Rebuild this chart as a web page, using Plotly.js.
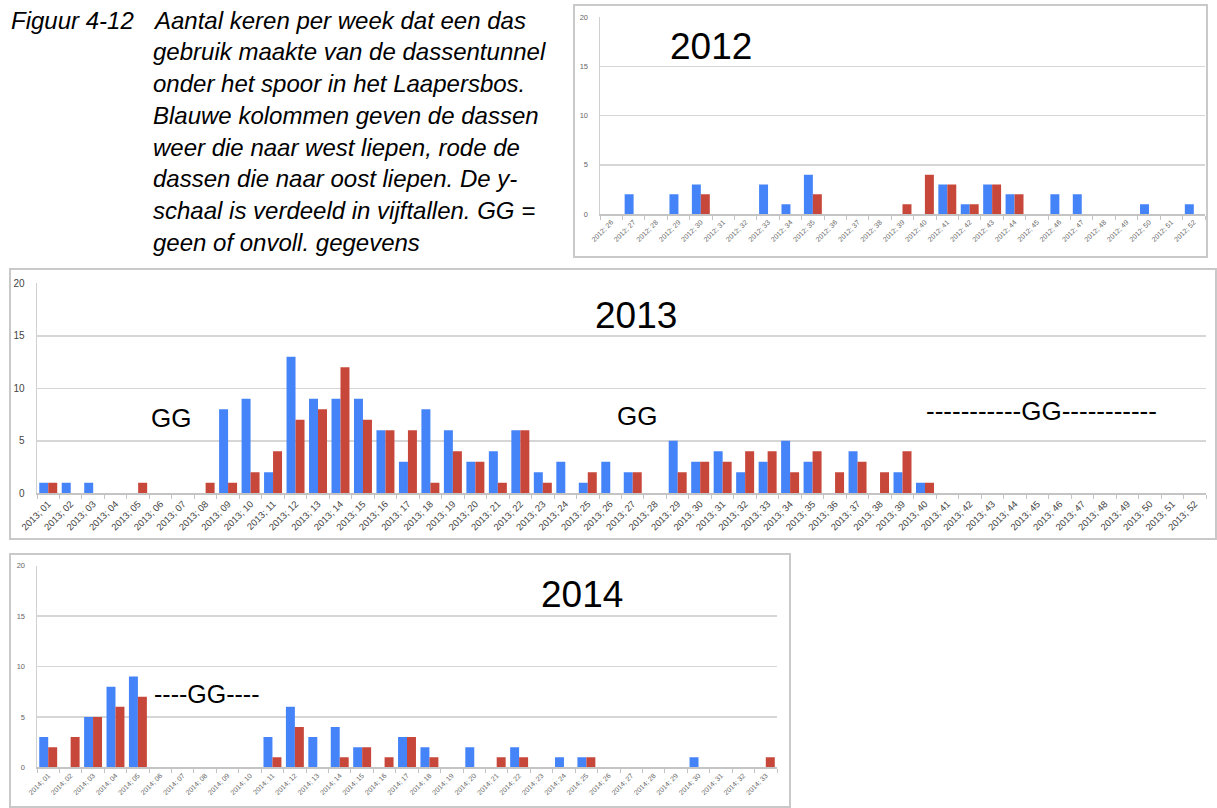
<!DOCTYPE html>
<html><head><meta charset="utf-8">
<script src="https://cdn.plot.ly/plotly-3.0.1.min.js"></script>
<style>html,body{margin:0;padding:0;background:#fff}#chart{width:1217px;height:808px}</style>
</head><body><div id="chart"></div>
<script>
const weeks2012 = ["2012; 26","2012; 27","2012; 28","2012; 29","2012; 30","2012; 31","2012; 32","2012; 33","2012; 34","2012; 35","2012; 36","2012; 37","2012; 38","2012; 39","2012; 40","2012; 41","2012; 42","2012; 43","2012; 44","2012; 45","2012; 46","2012; 47","2012; 48","2012; 49","2012; 50","2012; 51","2012; 52"];
const west2012 = [0,2,0,2,3,0,0,3,1,4,0,0,0,0,0,3,1,3,2,0,2,2,0,0,1,0,1];
const east2012 = [0,0,0,0,2,0,0,0,0,2,0,0,0,1,4,3,1,3,2,0,0,0,0,0,0,0,0];

const weeks2013 = ["2013; 01","2013; 02","2013; 03","2013; 04","2013; 05","2013; 06","2013; 07","2013; 08","2013; 09","2013; 10","2013; 11","2013; 12","2013; 13","2013; 14","2013; 15","2013; 16","2013; 17","2013; 18","2013; 19","2013; 20","2013; 21","2013; 22","2013; 23","2013; 24","2013; 25","2013; 26","2013; 27","2013; 28","2013; 29","2013; 30","2013; 31","2013; 32","2013; 33","2013; 34","2013; 35","2013; 36","2013; 37","2013; 38","2013; 39","2013; 40","2013; 41","2013; 42","2013; 43","2013; 44","2013; 45","2013; 46","2013; 47","2013; 48","2013; 49","2013; 50","2013; 51","2013; 52"];
const west2013 = [1,1,1,0,0,0,0,0,8,9,2,13,9,9,9,6,3,8,6,3,4,6,2,3,1,3,2,0,5,3,4,2,3,5,3,0,4,0,2,1,0,0,0,0,0,0,0,0,0,0,0,0];
const east2013 = [1,0,0,0,1,0,0,1,1,2,4,7,8,12,7,6,6,1,4,3,1,6,1,0,2,0,2,0,2,3,3,4,4,2,4,2,3,2,4,1,0,0,0,0,0,0,0,0,0,0,0,0];

const weeks2014 = ["2014; 01","2014; 02","2014; 03","2014; 04","2014; 05","2014; 06","2014; 07","2014; 08","2014; 09","2014; 10","2014; 11","2014; 12","2014; 13","2014; 14","2014; 15","2014; 16","2014; 17","2014; 18","2014; 19","2014; 20","2014; 21","2014; 22","2014; 23","2014; 24","2014; 25","2014; 26","2014; 27","2014; 28","2014; 29","2014; 30","2014; 31","2014; 32","2014; 33"];
const west2014 = [3,0,5,8,9,0,0,0,0,0,3,6,3,4,2,0,3,2,0,2,0,2,0,1,1,0,0,0,0,1,0,0,0];
const east2014 = [2,3,5,6,7,0,0,0,0,0,1,4,0,1,2,1,3,1,0,0,1,1,0,0,1,0,0,0,0,0,0,0,1];

const captionLines = ["Aantal keren per week dat een das","gebruik maakte van de dassentunnel","onder het spoor in het Laapersbos.","Blauwe kolommen geven de dassen","weer die naar west liepen, rode de","dassen die naar oost liepen. De y-","schaal is verdeeld in vijftallen. GG =","geen of onvoll. gegevens"];
const figLabel = "Figuur 4-12";

const W = 1217, H = 808;
const fx = x => x / W, fy = y => 1 - y / H;
const BLUE = '#4584f8', RED = '#c8473b';
const FONT = 'Liberation Sans, Arial, Helvetica, sans-serif';

function pair(cats, west, east, xa, ya) {
  return [
    {type:'bar', x:cats, y:west, xaxis:xa, yaxis:ya, marker:{color:BLUE}, hoverinfo:'skip', name:'west'},
    {type:'bar', x:cats, y:east, xaxis:xa, yaxis:ya, marker:{color:RED}, hoverinfo:'skip', name:'oost'}
  ];
}
const data = [].concat(
  pair(weeks2012, west2012, east2012, 'x', 'y'),
  pair(weeks2013, west2013, east2013, 'x2', 'y2'),
  pair(weeks2014, west2014, east2014, 'x3', 'y3')
);

function xax(d, anchor, fs, col) {
  return {domain:d, anchor:anchor, type:'category', tickmode:'linear', tick0:0, dtick:1,
    tickangle:-45, tickfont:{family:FONT, size:fs, color:col}, showline:true, linecolor:'#c4c4c4', linewidth:1.5,
    ticks:'outside', tickson:'boundaries', ticklen:4, tickcolor:'#c4c4c4', showgrid:false, zeroline:false, fixedrange:true, automargin:false};
}
function yax(d, anchor, fs, col) {
  return {domain:d, anchor:anchor, range:[0,20], tickmode:'linear', tick0:0, dtick:5, showgrid:true, gridcolor:'#d6d6d6', gridwidth:1.5,
    showline:true, linecolor:'#d0d0d0', linewidth:1.5, zeroline:false, ticks:'', ticklabelstandoff:9,
    tickfont:{family:FONT, size:fs, color:col}, fixedrange:true, automargin:false};
}

const ann = [];
function txt(t, x, y, size, xanchor, italic) {
  ann.push({text: italic ? '<i>' + t + '</i>' : t, x:fx(x), y:fy(y), xref:'paper', yref:'paper', xanchor:xanchor || 'center', yanchor:'middle',
    showarrow:false, font:{family:FONT, size:size, color:'#000'}});
}
const capSize = 24;
txt(figLabel, 9, 20, capSize, 'left', true);
captionLines.forEach((l, i) => txt(l, 151, 20 + i * 31.8, capSize, 'left', true));

txt('2012', 711, 46, 37);
txt('2013', 636, 315, 37);
txt('GG', 171, 418, 26);
txt('GG', 637, 416, 26);
txt('-----------GG-----------', 1041, 411, 26);
txt('2014', 582, 594, 37);
txt('----GG----', 207, 694, 25);

function box(x0, y0, x1, y1) {
  return {type:'rect', xref:'paper', yref:'paper', x0:fx(x0), x1:fx(x1), y0:fy(y1), y1:fy(y0),
    line:{color:'#c9c9c9', width:2}, fillcolor:'rgba(0,0,0,0)', layer:'below'};
}

const layout = {
  width:W, height:H, margin:{l:0, r:0, t:0, b:0}, paper_bgcolor:'#fff', plot_bgcolor:'rgba(0,0,0,0)',
  showlegend:false, barmode:'group', bargap:0.2, bargroupgap:0,
  xaxis: xax([fx(600), fx(1205)], 'y', 7, '#666'),
  yaxis: yax([fy(214), fy(17.3)], 'x', 7.5, '#666'),
  xaxis2: xax([fx(37), fx(1206)], 'y2', 9.5, '#444'),
  yaxis2: yax([fy(493.3), fy(283.3)], 'x2', 10, '#444'),
  xaxis3: xax([fx(37), fx(777)], 'y3', 7, '#666'),
  yaxis3: yax([fy(767.3), fy(565.7)], 'x3', 7.5, '#666'),
  annotations: ann,
  shapes: [box(574, 5, 1207, 257), box(10, 269, 1216, 539), box(10, 554, 790, 807)]
};
Plotly.newPlot('chart', data, layout, {staticPlot:true, displayModeBar:false});
</script></body></html>
